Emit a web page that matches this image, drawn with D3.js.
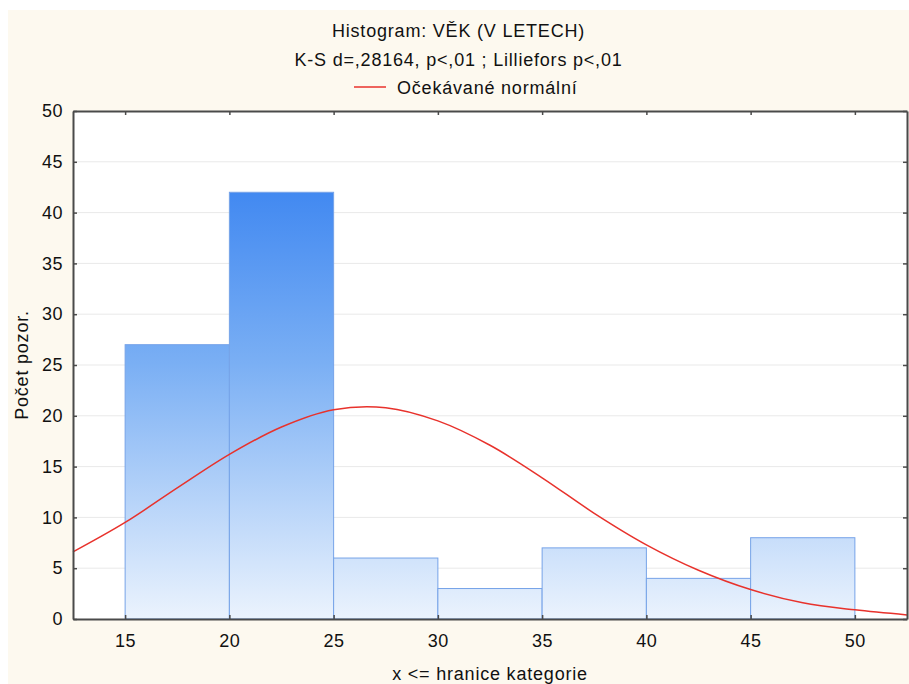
<!DOCTYPE html>
<html>
<head>
<meta charset="utf-8">
<script src="https://cdn.jsdelivr.net/npm/d3@7"></script>
<style>
  body { margin: 0; background: #ffffff; }
  text { font-family: "Liberation Sans", Arial, sans-serif; fill: #111; }
</style>
</head>
<body>
<div id="chart"></div>
<script>
// histogram bins (upper bound of each category) and counts
const binStarts = [15, 20, 25, 30, 35, 40, 45]
const binEnds = [20, 25, 30, 35, 40, 45, 50]
const counts = [27, 42, 6, 3, 7, 4, 8]

// expected normal curve
const curveX = [12.5, 15, 17.5, 20, 22.5, 25, 27.5, 30, 32.5, 35, 37.5, 40, 42.5, 45, 47.5, 50, 52.5]
const curveY = [6.6, 9.5, 12.9, 16.2, 18.9, 20.6, 20.8, 19.5, 17.1, 13.9, 10.4, 7.3, 4.8, 2.9, 1.6, 0.9, 0.4]

const xTicks = [15, 20, 25, 30, 35, 40, 45, 50]
const yTicks = [0, 5, 10, 15, 20, 25, 30, 35, 40, 45, 50]

const width = 909
const height = 684
const margin = {left: 73, right: 2, top: 111, bottom: 65}

const svg = d3.select("#chart")
    .append("svg")
    .attr("width", width)
    .attr("height", height)

svg.append("rect")
    .attr("x", 8).attr("y", 10)
    .attr("width", width - 8).attr("height", height - 10)
    .attr("fill", "#fdf9ef")

const x = d3.scaleLinear().domain([12.5, 52.5]).range([margin.left, width - margin.right])
const y = d3.scaleLinear().domain([0, 50]).range([height - margin.bottom, margin.top])

// plot area
svg.append("rect")
    .attr("x", x(12.5)).attr("y", y(50))
    .attr("width", x(52.5) - x(12.5)).attr("height", y(0) - y(50))
    .attr("fill", "#ffffff")

// gridlines
svg.append("g")
    .selectAll("line")
    .data(yTicks.filter(d => d > 0 && d < 50))
    .join("line")
    .attr("x1", x(12.5)).attr("x2", x(52.5))
    .attr("y1", d => y(d)).attr("y2", d => y(d))
    .attr("stroke", "#e9e9e9")
    .attr("stroke-width", 1)

// gradient tied to the value axis, not to each bar
const grad = svg.append("defs").append("linearGradient")
    .attr("id", "barGrad")
    .attr("gradientUnits", "userSpaceOnUse")
    .attr("x1", 0).attr("x2", 0)
    .attr("y1", y(42)).attr("y2", y(0))
grad.append("stop").attr("offset", 0).attr("stop-color", "#4289f1")
grad.append("stop").attr("offset", 0.4).attr("stop-color", "#7aaff4")
grad.append("stop").attr("offset", 1).attr("stop-color", "#ebf3fd")

svg.append("g")
    .selectAll("rect")
    .data(counts)
    .join("rect")
    .attr("x", (d, i) => x(binStarts[i]))
    .attr("y", d => y(d))
    .attr("width", (d, i) => x(binEnds[i]) - x(binStarts[i]))
    .attr("height", d => y(0) - y(d))
    .attr("fill", "url(#barGrad)")
    .attr("stroke", "#76a3e8")
    .attr("stroke-width", 1)

// normal curve
const line = d3.line()
    .x((d, i) => x(curveX[i]))
    .y(d => y(d))
    .curve(d3.curveCatmullRom)

svg.append("path")
    .datum(curveY)
    .attr("d", line)
    .attr("fill", "none")
    .attr("stroke", "#e8322c")
    .attr("stroke-width", 1.5)

// axes on all four sides, ticks pointing inward
const axisColor = "#4a4a4a"
svg.append("g")
    .attr("transform", `translate(0,${y(0)})`)
    .call(d3.axisBottom(x).tickValues(xTicks).tickSizeInner(-4).tickSizeOuter(0).tickPadding(15))
svg.append("g")
    .attr("transform", `translate(0,${y(50)})`)
    .call(d3.axisTop(x).tickValues(xTicks).tickSizeInner(-4).tickSizeOuter(0).tickFormat(""))
svg.append("g")
    .attr("transform", `translate(${x(12.5)},0)`)
    .call(d3.axisLeft(y).tickValues(yTicks).tickSizeInner(-4).tickSizeOuter(0).tickPadding(10))
svg.append("g")
    .attr("transform", `translate(${x(52.5)},0)`)
    .call(d3.axisRight(y).tickValues(yTicks).tickSizeInner(-4).tickSizeOuter(0).tickFormat(""))

svg.selectAll(".domain").attr("stroke", axisColor).attr("stroke-width", 2)
svg.selectAll(".tick line").attr("stroke", axisColor).attr("stroke-width", 1.5)
svg.selectAll(".tick text").attr("font-size", 18).attr("fill", "#111")
    .attr("font-family", "Liberation Sans, Arial, sans-serif")
    .attr("letter-spacing", 0.5)

// titles
const cx = (8 + width) / 2
const fs = 18
const ls = 0.8
svg.append("text").attr("x", cx).attr("y", 37).attr("text-anchor", "middle")
    .attr("font-size", fs).attr("letter-spacing", ls).text("Histogram: VĚK (V LETECH)")
svg.append("text").attr("x", cx).attr("y", 65.5).attr("text-anchor", "middle")
    .attr("font-size", fs).attr("letter-spacing", ls).text("K-S d=,28164, p<,01 ; Lilliefors p<,01")

// legend
svg.append("line")
    .attr("x1", 354).attr("x2", 386).attr("y1", 87).attr("y2", 87)
    .attr("stroke", "#e8322c").attr("stroke-width", 1.5)
svg.append("text").attr("x", 397).attr("y", 94)
    .attr("font-size", fs).attr("letter-spacing", ls).text("Očekávané normální")

// axis titles
svg.append("text")
    .attr("transform", `translate(28,${(y(0) + y(50)) / 2}) rotate(-90)`)
    .attr("text-anchor", "middle")
    .attr("font-size", fs).attr("letter-spacing", ls).text("Počet pozor.")
svg.append("text")
    .attr("x", (x(12.5) + x(52.5)) / 2).attr("y", 680)
    .attr("text-anchor", "middle")
    .attr("font-size", fs).attr("letter-spacing", ls).text("x <= hranice kategorie")
</script>
</body>
</html>
